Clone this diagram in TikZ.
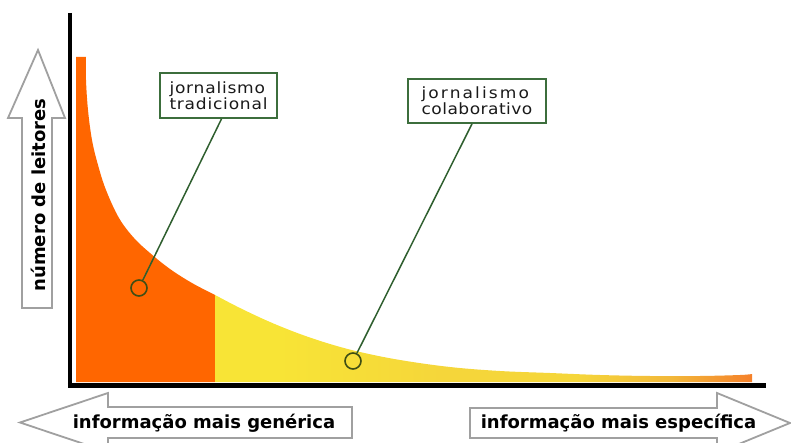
\documentclass[tikz,border=0pt]{standalone}
\usepackage{fontspec}
\newfontfamily\axfont{DejaVu Sans}
\newfontfamily\lblA[FakeStretch=1.1,LetterSpace=5]{DejaVu Sans}
\newfontfamily\lblB[FakeStretch=1.1,LetterSpace=13.5]{DejaVu Sans}
\newfontfamily\lblC[FakeStretch=1.1,LetterSpace=3]{DejaVu Sans}
\usetikzlibrary{calc}
\definecolor{orng}{HTML}{FF6600}
\definecolor{yelA}{HTML}{F8E436}
\definecolor{yelB}{HTML}{F5D63A}
\definecolor{yelC}{HTML}{F2B83A}
\definecolor{yelD}{HTML}{F5802A}
\definecolor{boxgreen}{HTML}{3C6E3C}
\definecolor{leadgreen}{HTML}{2F5F2F}
\definecolor{ringcol}{HTML}{3E4E14}
\definecolor{arrgray}{HTML}{A0A0A0}
\definecolor{txtgray}{HTML}{1A1A1A}
\pgfdeclarehorizontalshading{yelshade}{100bp}{color(0bp)=(yelA); color(40bp)=(yelA); color(52bp)=(yelB); color(62bp)=(yelB); color(69bp)=(yelC); color(75bp)=(yelD); color(100bp)=(yelD)}
\tikzset{
  axlbl/.style={font=\axfont\bfseries\fontsize{18}{20}\selectfont, text=black, inner sep=0pt, anchor=base},
  outlinearrow/.style={draw=arrgray, line width=1.8pt, fill=white, line join=miter},
  labelbox/.style={draw=boxgreen, line width=1.8pt, fill=white, text=txtgray, align=left, inner sep=0pt},
  leader/.style={draw=leadgreen, line width=1.5pt},
  ring/.style={circle, draw=ringcol, line width=1.6pt, minimum size=16pt, inner sep=0pt}
}
\begin{document}
\begin{tikzpicture}[x=1pt,y=-1pt]
\useasboundingbox (0,0) rectangle (791,443);
\begin{scope}
\clip (0,0) rectangle (791,443);
% orange area
\begin{scope}
\clip (0,0) rectangle (215,400);
\fill[orng] (76,382) -- (76,57) -- plot[smooth, tension=0.6] coordinates {(86,57) (86,80) (88,110) (92,140) (98,165) (106,190) (119,218) (134,238) (150,253) (170,269) (192,283) (215,295) (240,308) (270,322) (300,334) (330,344) (360,352) (400,360) (450,367) (500,371) (550,373) (600,375) (650,376) (700,376) (740,375) (752,374)} -- (752,382) -- cycle;
\end{scope}
% yellow area
\begin{scope}
\clip (215,0) rectangle (800,400);
\shade[shading=yelshade] (76,382) -- (76,57) -- plot[smooth, tension=0.6] coordinates {(86,57) (86,80) (88,110) (92,140) (98,165) (106,190) (119,218) (134,238) (150,253) (170,269) (192,283) (215,295) (240,308) (270,322) (300,334) (330,344) (360,352) (400,360) (450,367) (500,371) (550,373) (600,375) (650,376) (700,376) (740,375) (752,374)} -- (752,382) -- cycle;
\end{scope}
% axes
\draw[line width=4.5pt] (70,13) -- (70,387.5);
\draw[line width=4.5pt] (67.75,385.5) -- (766,385.5);
% up arrow
\draw[outlinearrow] (38,50) -- (65,118) -- (52,118) -- (52,308) -- (22,308) -- (22,118) -- (8,118) -- cycle;
\node[axlbl, rotate=90] (ylabel) at (45,195) {número de leitores};
% left arrow
\draw[outlinearrow] (20,422.5) -- (108,393) -- (108,407) -- (352,407) -- (352,438) -- (108,438) -- (108,452) -- cycle;
\node[axlbl] (xlabelL) at (204,428) {informação mais genérica};
% right arrow
\draw[outlinearrow] (470,408) -- (717,408) -- (717,393) -- (790,423) -- (717,453) -- (717,438) -- (470,438) -- cycle;
\node[axlbl] (xlabelR) at (618.5,428) {informação mais específica};
\end{scope}
% label boxes
\node[labelbox, minimum width=117pt, minimum height=45pt, font=\lblA\fontsize{15.5}{14.5}\selectfont] (box1) at (218.5,95.5) {jornalismo\\tradicional};
\node[labelbox, minimum width=138pt, minimum height=44pt, font=\fontsize{15.5}{14.5}\selectfont] (box2) at (477,101) {{\lblB jornalismo}\\{\lblC colaborativo}};
% rings
\node[ring] (c1) at (139,288) {};
\node[ring] (c2) at (353,361) {};
% leaders
\draw[leader] ($(box1.south)+(3,0)$) -- (c1);
\draw[leader] ($(box2.south)+(-5,0)$) -- (c2);
\end{tikzpicture}
\end{document}
